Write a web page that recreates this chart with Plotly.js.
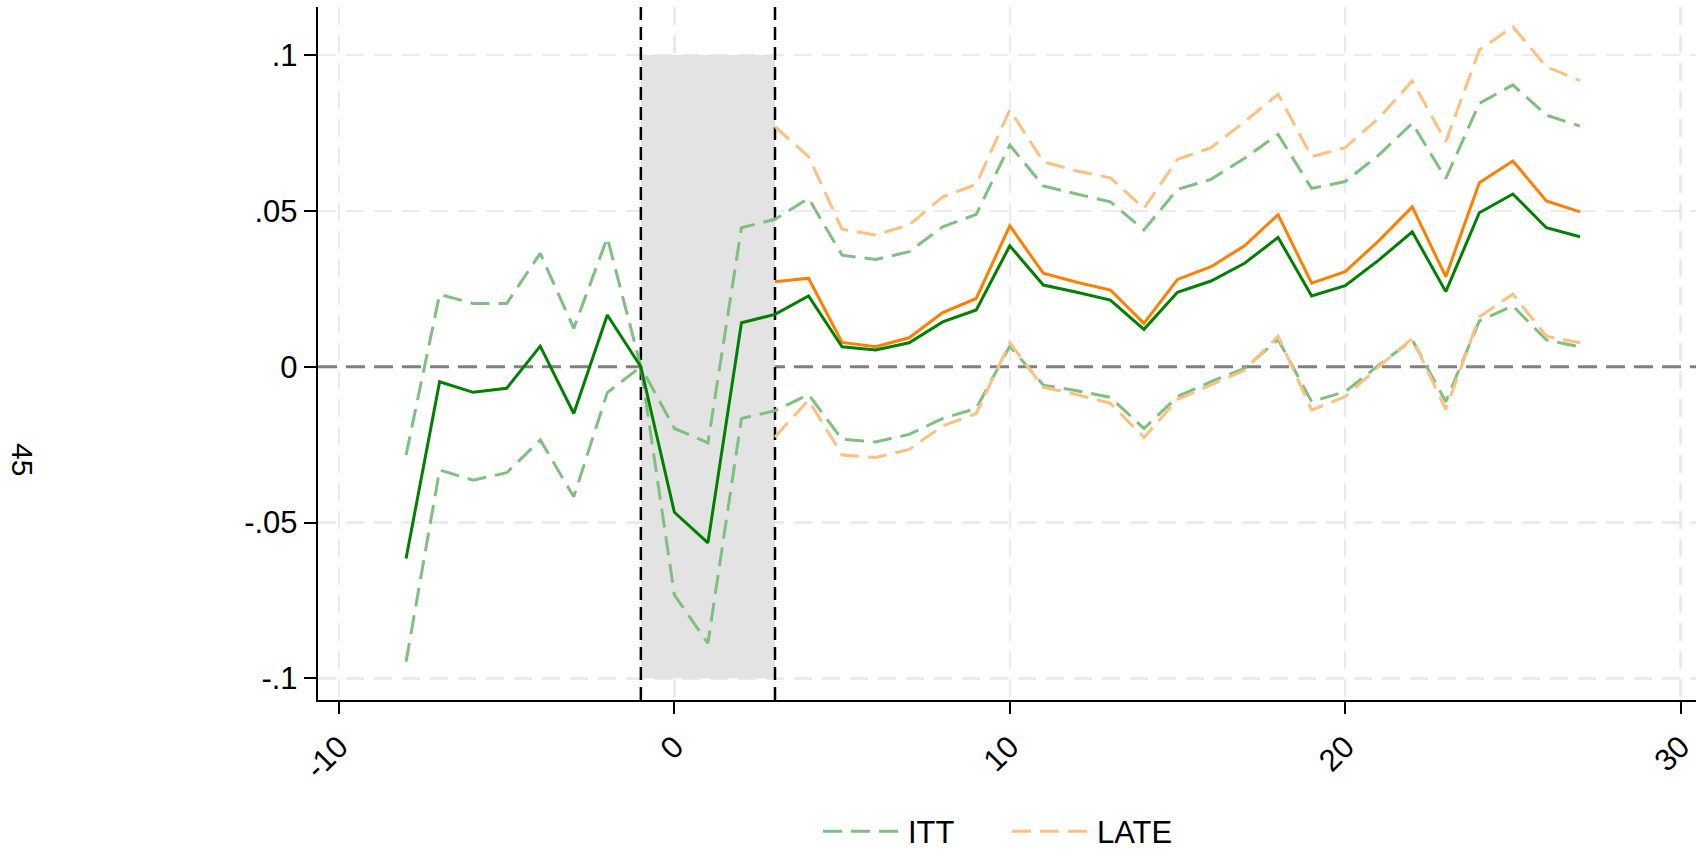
<!DOCTYPE html>
<html>
<head>
<meta charset="utf-8">
<script src="https://cdn.plot.ly/plotly-3.0.1.min.js"></script>
<style>
  html, body { margin: 0; padding: 0; background: #ffffff; }
  #chart { width: 1696px; height: 850px; }
</style>
</head>
<body>
<div id="chart"></div>
<script>
// Event time for the ITT series and the LATE series
const ittPeriods = [-8, -7, -6, -5, -4, -3, -2, -1, 0, 1, 2, 3, 4, 5, 6, 7, 8, 9, 10, 11, 12, 13, 14, 15, 16, 17, 18, 19, 20, 21, 22, 23, 24, 25, 26, 27];
const latePeriods = [3, 4, 5, 6, 7, 8, 9, 10, 11, 12, 13, 14, 15, 16, 17, 18, 19, 20, 21, 22, 23, 24, 25, 26, 27];

// ITT point estimates and confidence bounds
const ittEstimate = [-0.0615, -0.0048, -0.0082, -0.0069, 0.0066, -0.0150, 0.0166, 0.0, -0.0467, -0.0565, 0.0141, 0.0168,
  0.0227, 0.0064, 0.0054, 0.0077, 0.0144, 0.0182, 0.0388, 0.0262, 0.0239, 0.0214, 0.0120, 0.0239, 0.0275, 0.0332,
  0.0415, 0.0227, 0.0260, 0.0342, 0.0433, 0.0241, 0.0494, 0.0554, 0.0446, 0.0417];
const ittUpper = [-0.0283, 0.0232, 0.0203, 0.0203, 0.0364, 0.0123, 0.0414, 0.0, -0.0198, -0.0244, 0.0446, 0.0473,
  0.0540, 0.0358, 0.0344, 0.0369, 0.0449, 0.0489, 0.0711, 0.0580, 0.0554, 0.0529, 0.0439, 0.0569, 0.0601, 0.0669,
  0.0745, 0.0572, 0.0594, 0.0679, 0.0781, 0.0604, 0.0845, 0.0904, 0.0807, 0.0772];
const ittLower = [-0.0946, -0.0331, -0.0364, -0.0340, -0.0235, -0.0417, -0.0083, 0.0, -0.0732, -0.0887, -0.0166, -0.0141,
  -0.0089, -0.0233, -0.0241, -0.0217, -0.0166, -0.0134, 0.0066, -0.0059, -0.0077, -0.0098, -0.0198, -0.0096, -0.0048, -0.0005,
  0.0087, -0.0112, -0.0080, 0.0005, 0.0086, -0.0112, 0.0147, 0.0195, 0.0086, 0.0064];

// LATE point estimates and confidence bounds
const lateEstimate = [0.0273, 0.0284, 0.0078, 0.0064, 0.0093, 0.0174, 0.0219, 0.0452, 0.0300, 0.0271, 0.0246, 0.0139, 0.0280,
  0.0321, 0.0388, 0.0488, 0.0268, 0.0305, 0.0404, 0.0513, 0.0289, 0.0590, 0.0660, 0.0532, 0.0497];
const lateUpper = [0.0770, 0.0674, 0.0441, 0.0423, 0.0455, 0.0545, 0.0585, 0.0824, 0.0658, 0.0628, 0.0606, 0.0508, 0.0665,
  0.0703, 0.0786, 0.0874, 0.0674, 0.0703, 0.0797, 0.0917, 0.0722, 0.1016, 0.1091, 0.0962, 0.0918];
const lateLower = [-0.0225, -0.0107, -0.0283, -0.0291, -0.0265, -0.0190, -0.0150, 0.0077, -0.0066, -0.0089, -0.0117, -0.0227, -0.0105,
  -0.0059, -0.0011, 0.0098, -0.0139, -0.0096, 0.0000, 0.0091, -0.0137, 0.0160, 0.0233, 0.0098, 0.0077];

// Axis ticks
const xTickValues = [-10, 0, 10, 20, 30];
const xTickLabels = ['-10', '0', '10', '20', '30'];
const yTickValues = [-0.1, -0.05, 0, 0.05, 0.1];
const yTickLabels = ['-.1', '-.05', '0', '.05', '.1'];

// Shaded treatment window and its bounds
const windowStart = -1;
const windowEnd = 3;
const windowBottom = -0.1;
const windowTop = 0.1;

const seriesNames = ['ITT', 'LATE'];
const sideLabel = '45';

const FONT = 'Liberation Sans, Arial, Helvetica, sans-serif';
const GREEN = '#008000';
const GREEN_LIGHT = '#7fbf7f';
const ORANGE = '#ff7f00';
const ORANGE_LIGHT = '#ffbf7f';
const CI_DASH = '19px,9px';

const X_RANGE = [-10.626, 30.46];
const Y_RANGE = [-0.1069, 0.1154];

function band(x, y, color, name, show) {
  return {
    x: x, y: y, type: 'scatter', mode: 'lines', name: name,
    legendgroup: name, showlegend: show, hoverinfo: 'skip',
    line: { color: color, width: 3, dash: CI_DASH }
  };
}
function estimate(x, y, color, name) {
  return {
    x: x, y: y, type: 'scatter', mode: 'lines', name: name,
    legendgroup: name, showlegend: false,
    line: { color: color, width: 3 }
  };
}

const traces = [
  band(ittPeriods, ittUpper, GREEN_LIGHT, seriesNames[0], true),
  band(ittPeriods, ittLower, GREEN_LIGHT, seriesNames[0], false),
  band(latePeriods, lateUpper, ORANGE_LIGHT, seriesNames[1], true),
  band(latePeriods, lateLower, ORANGE_LIGHT, seriesNames[1], false),
  estimate(latePeriods, lateEstimate, ORANGE, seriesNames[1]),
  estimate(ittPeriods, ittEstimate, GREEN, seriesNames[0])
];

const gridStyle = { showgrid: true, gridcolor: '#ebebeb', gridwidth: 2.5, griddash: '18px,10px' };

const layout = {
  width: 1696,
  height: 850,
  margin: { l: 318, r: 0, t: 7, b: 150, autoexpand: false },
  paper_bgcolor: '#ffffff',
  plot_bgcolor: '#ffffff',
  font: { family: FONT, size: 31, color: '#000000' },
  showlegend: true,
  legend: {
    orientation: 'h',
    x: 0.5, xanchor: 'center',
    y: -0.19, yanchor: 'middle',
    font: { family: FONT, size: 31, color: '#000000' },
    itemwidth: 80,
    entrywidth: 94,
    entrywidthmode: 'pixels',
    tracegroupgap: 0,
    bgcolor: 'rgba(0,0,0,0)'
  },
  xaxis: Object.assign({
    range: X_RANGE,
    tickmode: 'array', tickvals: xTickValues, ticktext: xTickLabels,
    tickangle: -45,
    ticklabeloverflow: 'allow',
    ticks: 'outside', ticklen: 12, tickwidth: 2, tickcolor: '#000000',
    ticklabelstandoff: 2,
    showline: true, linecolor: '#000000', linewidth: 2.2,
    zeroline: false, mirror: false,
    tickfont: { family: FONT, size: 31, color: '#000000' }
  }, gridStyle),
  yaxis: Object.assign({
    range: Y_RANGE,
    tickmode: 'array', tickvals: yTickValues, ticktext: yTickLabels,
    ticklabeloverflow: 'allow',
    ticks: 'outside', ticklen: 12, tickwidth: 2, tickcolor: '#000000',
    ticklabelstandoff: 0,
    showline: true, linecolor: '#000000', linewidth: 2.2,
    zeroline: false, mirror: false,
    tickfont: { family: FONT, size: 31, color: '#000000' }
  }, gridStyle),
  shapes: [
    // reference line at zero
    { type: 'line', layer: 'between', xref: 'x', yref: 'y', x0: X_RANGE[0], x1: X_RANGE[1], y0: 0, y1: 0,
      line: { color: '#808080', width: 3, dash: '19px,9px' } },
    // treatment window
    { type: 'rect', layer: 'between', xref: 'x', yref: 'y',
      x0: windowStart, x1: windowEnd, y0: windowBottom, y1: windowTop,
      fillcolor: '#e3e3e3', line: { width: 0 } },
    // window boundaries
    { type: 'line', layer: 'between', xref: 'x', yref: 'y', x0: windowStart, x1: windowStart, y0: Y_RANGE[0], y1: Y_RANGE[1],
      line: { color: '#000000', width: 2.5, dash: '13px,7px' } },
    { type: 'line', layer: 'between', xref: 'x', yref: 'y', x0: windowEnd, x1: windowEnd, y0: Y_RANGE[0], y1: Y_RANGE[1],
      line: { color: '#000000', width: 2.5, dash: '13px,7px' } }
  ],
  annotations: [
    { text: sideLabel, xref: 'paper', yref: 'paper', x: -0.2148, y: 0.3478,
      xanchor: 'center', yanchor: 'middle', textangle: 90, showarrow: false,
      font: { family: FONT, size: 30, color: '#000000' } }
  ]
};

Plotly.newPlot('chart', traces, layout, { displayModeBar: false, staticPlot: true });
</script>
</body>
</html>
